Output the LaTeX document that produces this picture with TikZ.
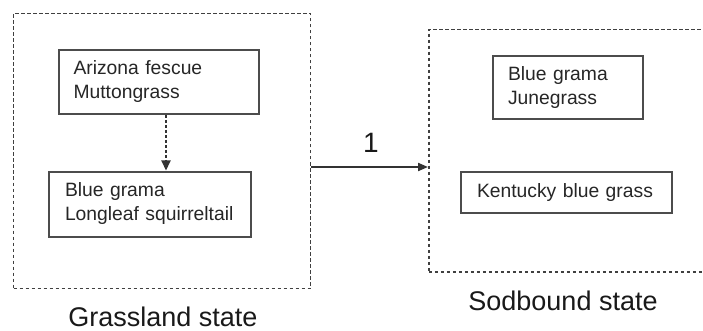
\documentclass[tikz,border=0pt]{standalone}
\usepackage{fontspec}
\setmainfont{Liberation Sans}
\usetikzlibrary{arrows.meta}
\begin{document}
\begin{tikzpicture}[x=1pt,y=-1pt,
  statebox/.style={draw=black!75, line width=1.5pt, dash pattern=on 3.5pt off 2.5pt, inner sep=0pt},
  specbox/.style={draw=black!70, line width=2pt, inner sep=0pt, inner xsep=15pt, align=left,
     font=\fontsize{19.3}{24}\selectfont, text=black!85},
  statelabel/.style={font=\fontsize{27}{30}\selectfont, text=black!90, anchor=base, inner sep=1pt},
  conn/.style={line width=2pt, draw=black!80, -{Triangle[length=10pt,width=8pt]}}]
\useasboundingbox (0,0) rectangle (703,331);
\fill[white] (0,0) rectangle (703,331);
% state boxes
\node[statebox, minimum width=297pt, minimum height=275pt] (L) at (162,151) {};
\node[statebox, minimum width=300pt, minimum height=242pt, anchor=north west] (R) at (428,29) {};
% species boxes
\node[specbox, text width=170pt, minimum height=64pt] (A) at (158.5,82) {Arizona fescue\\Muttongrass};
\node[specbox, inner xsep=16pt, text width=170pt, minimum height=65pt] (B) at (150,204) {Blue grama\\Longleaf squirreltail};
\node[specbox, text width=120pt, minimum height=63pt] (C) at (568,87.5) {Blue grama\\Junegrass};
\node[specbox, inner xsep=16pt, text width=179pt, minimum height=41pt] (D) at (566.5,192.5) {Kentucky blue grass};
% labels
\node[statelabel] (Lt) at (163,326) {Grassland state};
\node[statelabel] (Rt) at (563,310) {Sodbound state};
% connectors
\coordinate (ax) at (166,0);
\draw[conn, dash pattern=on 3pt off 2pt, -{Triangle[length=10pt,width=9pt]}] (A.south -| ax) -- (B.north -| ax);
\coordinate (ay) at (0,167);
\draw[conn] (L.east |- ay) -- (R.west |- ay);
\node[font=\fontsize{28}{30}\selectfont, text=black!90, anchor=base] (one) at (371,153) {1};
\end{tikzpicture}
\end{document}
